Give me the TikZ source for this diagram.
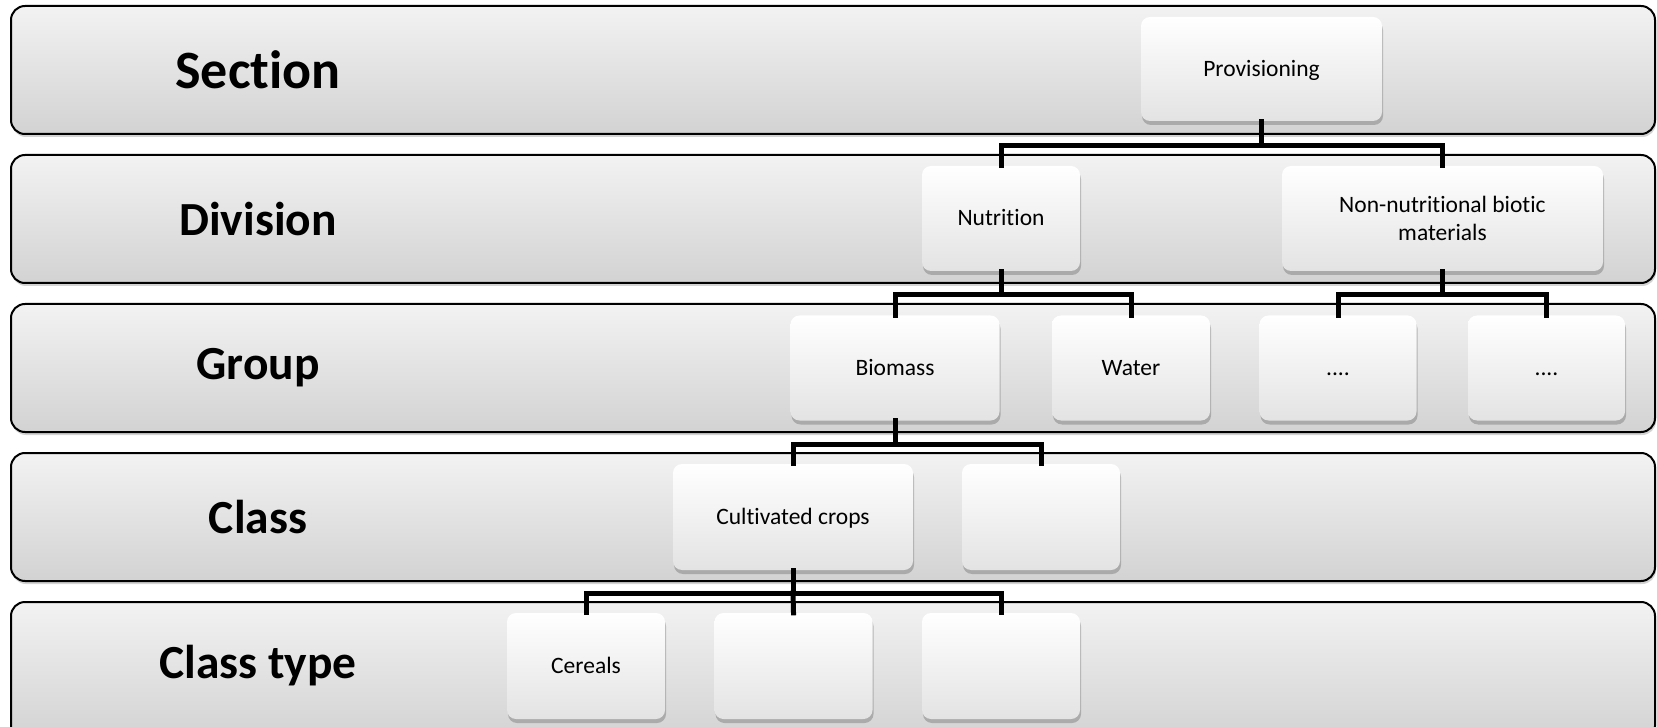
\documentclass[tikz,border=0pt]{standalone}
\usepackage{fontspec}
\setmainfont{Carlito}[Ligatures=CommonOff]
\usetikzlibrary{shadows}
\begin{document}
\begin{tikzpicture}[x=1pt,y=-1pt,
  band/.style={draw=black, line width=2pt, rounded corners=14pt, top color=gray!10, bottom color=gray!35,
     drop shadow={shadow xshift=1pt, shadow yshift=-3pt, opacity=0.35}},
  bandlabel/.style={font=\fontsize{47.5}{54}\selectfont\bfseries, anchor=center},
  box/.style={rectangle, rounded corners=9pt, top color=white, bottom color=gray!22, draw=none,
     minimum width=158pt, minimum height=105pt, align=center, inner sep=2pt,
     font=\fontsize{23.5}{28}\selectfont,
     drop shadow={shadow xshift=1pt, shadow yshift=-4pt, opacity=0.5}},
  oneline/.style={text height=14.5pt, text depth=0pt},
  link/.style={line width=5pt, draw=black, line cap=rect}
]
\useasboundingbox (0,0) rectangle (1657,727);
\begin{scope}
\clip (0,0) rectangle (1657,727);
% bands
\path[band] (11,6) rectangle (1655,134);
\path[band] (11,155) rectangle (1655,283);
\path[band] (11,304) rectangle (1655,432);
\path[band] (11,453) rectangle (1655,581);
\path[band] (11,602) rectangle (1655,740);
\end{scope}
\node[bandlabel, font=\fontsize{54}{60}\selectfont\bfseries] (lsec) at (258,70) {Section};
\node[bandlabel] (ldiv) at (258,219) {Division};
\node[bandlabel] (lgrp) at (258,368) {Group};
\node[bandlabel] (lcls) at (258,517) {Class};
\node[bandlabel] (ltyp) at (258,666) {Class type};
% junction levels
\coordinate (L1) at (0,146);
\coordinate (L2) at (0,295);
\coordinate (L3) at (0,444);
\coordinate (L4) at (0,593);
% nodes
\node[box, oneline, minimum width=241pt, minimum height=104pt] (prov) at (1261.5,69) {Provisioning};
\node[box, oneline] (nut) at (1001,218.5) {Nutrition};
\node[box, minimum width=321pt] (non) at (1442.5,218.5) {Non-nutritional biotic\\materials};
\node[box, oneline, minimum width=209pt] (bio) at (895,368) {Biomass};
\node[box, oneline] (wat) at (1131,368) {Water};
\node[box, oneline, minimum width=157pt] (d1) at (1338,368) {....};
\node[box, oneline, minimum width=157pt] (d2) at (1546.5,368) {....};
\node[box, oneline, minimum width=240pt, minimum height=106pt] (cult) at (793,517) {Cultivated crops};
\node[box, minimum height=106pt] (cemp) at (1041,517) {};
\node[box, oneline, minimum height=106pt] (cer) at (586,666) {Cereals};
\node[box, minimum height=106pt] (e2) at (793.5,666) {};
\node[box, minimum height=106pt] (e3) at (1001,666) {};
% connectors
\draw[link] (prov.south) -- (prov.south |- L1) -| (nut.north);
\draw[link] (prov.south |- L1) -| (non.north);
\draw[link] (nut.south) -- (nut.south |- L2) -| (bio.north);
\draw[link] (nut.south |- L2) -| (wat.north);
\draw[link] (non.south) -- (non.south |- L2) -| (d1.north);
\draw[link] (non.south |- L2) -| (d2.north);
\draw[link] (bio.south) -- (bio.south |- L3) -| (cult.north);
\draw[link] (bio.south |- L3) -| (cemp.north);
\draw[link] (cult.south) -- (cult.south |- L4) -| (cer.north);
\draw[link] (cult.south |- L4) -| (e3.north);
\draw[link] (cult.south |- L4) -- (e2.north);
\end{tikzpicture}
\end{document}
